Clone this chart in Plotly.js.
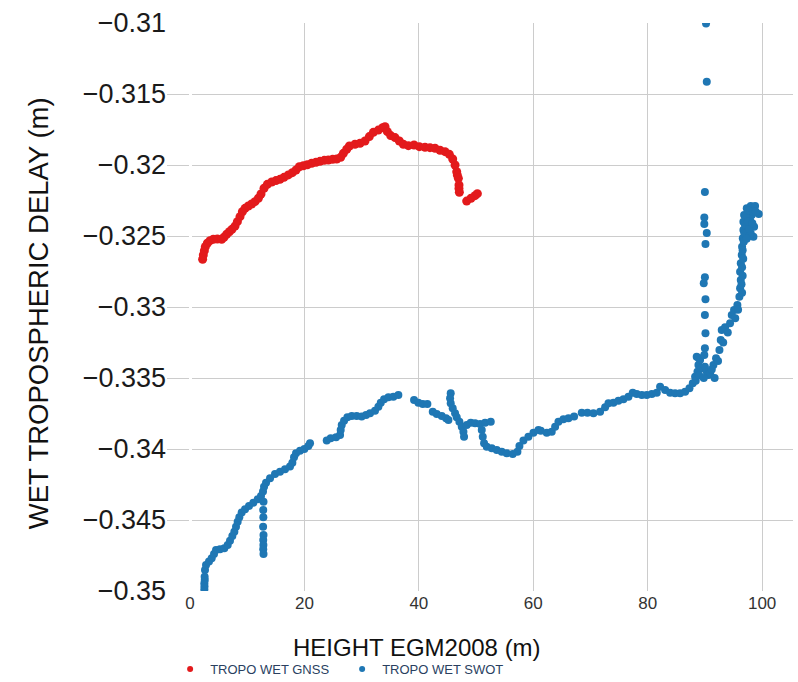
<!DOCTYPE html>
<html>
<head>
<meta charset="utf-8">
<script src="https://cdn.plot.ly/plotly-3.0.1.min.js"></script>
<style>html,body{margin:0;padding:0;background:#fff;}#chart{width:798px;height:682px;}</style>
</head>
<body>
<div id="chart"></div>
<script>
const gnssName = "TROPO WET GNSS";
const swotName = "TROPO WET SWOT";
const xTitle = "HEIGHT EGM2008 (m)";
const yTitle = "WET TROPOSPHERIC DELAY (m)";

const gnssX = [2.21,2.33,2.51,2.68,3.03,3.50,4.08,4.78,5.54,5.94,6.41,6.88,7.34,7.87,8.28,8.74,9.15,9.62,10.20,10.78,11.36,11.95,12.41,12.94,13.52,14.28,15.03,15.73,16.43,17.19,17.89,18.53,19.11,19.81,20.51,21.27,22.03,22.73,23.48,24.18,24.94,25.64,26.34,26.81,27.39,27.86,28.84,29.72,30.59,31.35,32.05,32.92,33.68,34.09,34.50,35.08,35.84,36.59,37.29,38.17,39.16,40.09,41.08,41.95,42.83,43.70,44.58,45.33,45.92,46.33,46.62,46.73,46.91,47.02,47.02,47.08,48.36,49.12,49.82,50.23];
const gnssY = [-0.32664,-0.32634,-0.32603,-0.32575,-0.32551,-0.32533,-0.32523,-0.32521,-0.32523,-0.32509,-0.32488,-0.32470,-0.32453,-0.32430,-0.32399,-0.32364,-0.32329,-0.32305,-0.32289,-0.32275,-0.32258,-0.32234,-0.32204,-0.32164,-0.32136,-0.32120,-0.32110,-0.32101,-0.32087,-0.32070,-0.32054,-0.32035,-0.32012,-0.32005,-0.31998,-0.31988,-0.31981,-0.31974,-0.31967,-0.31965,-0.31960,-0.31958,-0.31946,-0.31918,-0.31889,-0.31866,-0.31854,-0.31847,-0.31831,-0.31800,-0.31770,-0.31754,-0.31737,-0.31730,-0.31765,-0.31793,-0.31807,-0.31831,-0.31854,-0.31864,-0.31859,-0.31871,-0.31875,-0.31878,-0.31882,-0.31896,-0.31906,-0.31925,-0.31958,-0.32000,-0.32047,-0.32071,-0.32094,-0.32141,-0.32165,-0.32192,-0.32254,-0.32234,-0.32216,-0.32202];

const swotX = [
 2.45,2.51,2.53,2.51,2.58,2.56,2.62,2.80,3.32,3.79,4.20,4.55,5.24,6.00,6.59,6.99,7.40,7.75,8.04,8.33,8.62,9.03,9.62,10.31,11.07,11.83,12.41,12.76,12.94,13.29,13.99,14.86,15.73,16.61,17.48,17.89,18.18,18.53,19.23,19.99,20.69,20.98,
 12.85,12.80,12.82,12.78,12.85,12.80,12.83,12.80,12.85,
 23.90,24.59,25.53,26.23,26.34,26.52,26.93,27.51,28.27,29.14,30.01,30.77,31.47,32.34,32.93,33.34,33.92,34.68,35.55,36.42,
 39.16,39.92,40.68,41.49,42.43,43.13,44.00,44.76,45.17,45.57,45.46,45.57,45.92,46.33,46.62,47.09,47.50,47.79,47.90,48.37,49.07,49.83,50.70,51.58,52.57,51.00,51.17,51.40,51.87,52.74,53.62,54.49,55.36,56.41,57.23,57.58,58.28,59.15,60.03,60.90,
 61.31,62.36,63.23,63.82,64.40,65.27,66.15,67.14,68.48,69.47,70.52,71.68,72.56,73.14,74.01,74.89,75.76,76.64,77.39,78.09,78.97,79.84,80.72,81.59,82.17,83.05,83.92,84.79,85.67,86.54,87.30,87.88,88.29,88.70,
 88.87,88.57,89.16,89.45,90.32,90.61,90.91,91.49,91.95,92.54,92.77,92.94,93.53,94.40,94.69,95.10,95.68,96.03,96.15,96.27,96.15,96.27,96.44,96.50,96.62,96.73,96.73,96.85,97.32,98.01,98.77,99.41,98.60,98.48,98.01,97.32,97.90,98.19,
 96.5,96.4,96.6,96.5,96.7,96.6,96.8,96.9,97.0,97.1,97.6,97.5,97.7,98.3,98.4,98.9,97.8,97.3,93.2,94.0,95.3,95.8,88.4,89.0,89.8,90.0,91.2,91.7,92.3,88.9,
 90.20,90.33,90.00,89.90,89.90,90.33,90.10,90.00,89.80,90.10,90.00,90.10,90.00,89.90];
const swotY = [
 -0.35016,-0.34988,-0.34967,-0.34946,-0.34922,-0.34899,-0.34852,-0.34817,-0.34793,-0.34770,-0.34739,-0.34711,-0.34706,-0.34699,-0.34676,-0.34646,-0.34613,-0.34582,-0.34547,-0.34512,-0.34481,-0.34448,-0.34425,-0.34401,-0.34378,-0.34354,-0.34331,-0.34300,-0.34265,-0.34237,-0.34206,-0.34176,-0.34160,-0.34143,-0.34124,-0.34096,-0.34058,-0.34030,-0.34012,-0.34000,-0.33979,-0.33960,
 -0.34371,-0.34429,-0.34481,-0.34547,-0.34606,-0.34641,-0.34676,-0.34706,-0.34739,
 -0.33941,-0.33925,-0.33918,-0.33901,-0.33866,-0.33831,-0.33801,-0.33777,-0.33768,-0.33768,-0.33772,-0.33760,-0.33749,-0.33730,-0.33702,-0.33674,-0.33650,-0.33636,-0.33632,-0.33620,
 -0.33655,-0.33674,-0.33683,-0.33683,-0.33737,-0.33753,-0.33768,-0.33784,-0.33796,-0.33608,-0.33643,-0.33678,-0.33713,-0.33749,-0.33777,-0.33808,-0.33843,-0.33878,-0.33913,-0.33831,-0.33815,-0.33819,-0.33824,-0.33815,-0.33808,-0.33866,-0.33913,-0.33960,-0.33984,-0.33995,-0.34007,-0.34019,-0.34030,-0.34035,-0.34019,-0.33979,-0.33941,-0.33913,-0.33885,-0.33866,
 -0.33871,-0.33885,-0.33878,-0.33843,-0.33808,-0.33791,-0.33784,-0.33772,-0.33744,-0.33744,-0.33749,-0.33737,-0.33706,-0.33678,-0.33674,-0.33660,-0.33650,-0.33632,-0.33603,-0.33613,-0.33620,-0.33620,-0.33613,-0.33603,-0.33561,-0.33584,-0.33603,-0.33608,-0.33608,-0.33596,-0.33572,-0.33537,-0.33491,-0.33456,
 -0.33408,-0.33350,-0.33373,-0.33432,-0.33456,-0.33479,-0.33467,-0.33408,-0.33361,-0.33303,-0.33232,-0.33162,-0.33143,-0.33115,-0.33056,-0.33021,-0.32986,-0.32927,-0.32868,-0.32810,-0.32751,-0.32692,-0.32634,-0.32575,-0.32516,-0.32458,-0.32399,-0.32352,-0.32305,-0.32289,-0.32289,-0.32345,-0.32434,-0.32505,-0.32481,-0.32434,-0.32387,-0.32352,
 -0.3290,-0.3284,-0.3278,-0.3272,-0.3266,-0.3260,-0.3254,-0.3248,-0.3242,-0.3236,-0.3232,-0.3240,-0.3245,-0.3241,-0.3233,-0.3233,-0.3250,-0.3252,-0.3325,-0.3318,-0.3308,-0.3302,-0.3352,-0.3348,-0.3350,-0.3342,-0.3344,-0.3350,-0.3338,-0.3336,
 -0.31003,-0.31413,-0.32190,-0.32370,-0.32415,-0.32479,-0.32556,-0.32791,-0.32833,-0.32946,-0.33056,-0.33185,-0.33291,-0.33338];

const font = "Liberation Sans, Arial, sans-serif";
const red = '#e31a1c';
const blue = '#1f77b4';

const traces = [
  {type:'scatter', mode:'markers', name:gnssName, x:gnssX, y:gnssY, showlegend:false,
   marker:{color:red, size:9, line:{width:0}}},
  {type:'scatter', mode:'markers', name:swotName, x:swotX, y:swotY, showlegend:false,
   marker:{color:blue, size:8, line:{width:0}}},
  {type:'scatter', mode:'markers', name:gnssName, x:[null], y:[null], showlegend:true,
   marker:{color:red, size:6, line:{width:0}}},
  {type:'scatter', mode:'markers', name:swotName, x:[null], y:[null], showlegend:true,
   marker:{color:blue, size:6, line:{width:0}}}
];

const layout = {
  width:798, height:682,
  paper_bgcolor:'#ffffff', plot_bgcolor:'#ffffff',
  margin:{l:167, r:5, t:23, b:91, pad:0, autoexpand:false},
  showlegend:true,
  legend:{orientation:'h', x:0.005, xanchor:'left', y:-0.111, yanchor:'top', entrywidth:127,
          font:{family:font, size:13, color:'#2a3f5f'}, bgcolor:'rgba(0,0,0,0)'},
  xaxis:{range:[-4.02,105.4], dtick:20, tick0:0, showgrid:true, gridcolor:'#cccccc', gridwidth:1,
         zeroline:true, zerolinecolor:'#ffffff', zerolinewidth:3, showline:false, ticks:'',
         tickfont:{family:font, size:17, color:'#333333'}, automargin:false},
  yaxis:{range:[-0.35,-0.31], dtick:0.005, tick0:0, showgrid:true, gridcolor:'#cccccc', gridwidth:1,
         zeroline:false, showline:false, ticks:'',
         tickfont:{family:font, size:27, color:'#1a1a1a'}, automargin:false},
  annotations:[
    {text:xTitle, xref:'paper', yref:'paper', x:0.399, y:-0.099, xanchor:'center', yanchor:'middle',
     showarrow:false, borderpad:0, font:{family:font, size:24, color:'#111111'}},
    {text:yTitle, xref:'paper', yref:'paper', x:-0.206, y:0.489, xanchor:'center', yanchor:'middle',
     textangle:-90, showarrow:false, font:{family:font, size:27.5, color:'#111111'}}
  ]
};

Plotly.newPlot('chart', traces, layout, {displayModeBar:false, staticPlot:true});
</script>
</body>
</html>
